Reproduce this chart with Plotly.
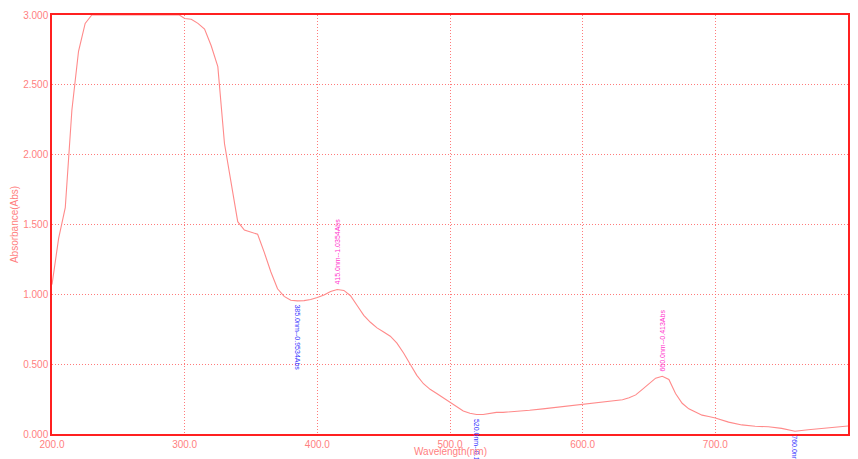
import plotly.graph_objects as go

wavelength = [200, 205, 210, 215, 220, 225, 230, 240, 250, 260, 270, 280, 290, 296,
              300, 305, 310, 315, 320, 325, 330, 335, 340, 345, 350, 355, 360, 365,
              370, 375, 380, 385, 390, 395, 400, 405, 410, 415, 420, 425, 430, 435,
              440, 445, 450, 455, 460, 465, 470, 475, 480, 485, 490, 495, 500, 505,
              510, 515, 520, 525, 530, 535, 540, 550, 560, 570, 580, 590, 600, 610,
              620, 630, 635, 640, 645, 650, 655, 660, 665, 670, 675, 680, 685, 690,
              695, 700, 710, 720, 730, 740, 750, 760, 770, 780, 790, 800]
absorbance = [1.07, 1.40, 1.62, 2.32, 2.74, 2.94, 3.0, 3.0, 3.0, 3.0, 3.0, 3.0, 3.0, 3.0,
              2.975, 2.97, 2.94, 2.90, 2.78, 2.63, 2.08, 1.80, 1.52, 1.46, 1.445, 1.43, 1.30, 1.16,
              1.04, 0.985, 0.958, 0.953, 0.955, 0.963, 0.978, 0.995, 1.02, 1.035, 1.028, 0.99, 0.92, 0.85,
              0.80, 0.76, 0.73, 0.70, 0.65, 0.58, 0.50, 0.42, 0.36, 0.32, 0.29, 0.26, 0.23, 0.195,
              0.165, 0.148, 0.14, 0.14, 0.15, 0.155, 0.155, 0.16, 0.17, 0.18, 0.19, 0.20, 0.215, 0.22,
              0.23, 0.245, 0.26, 0.28, 0.32, 0.36, 0.40, 0.413, 0.39, 0.29, 0.22, 0.18, 0.155, 0.135,
              0.125, 0.115, 0.085, 0.065, 0.055, 0.052, 0.04, 0.02, 0.03, 0.04, 0.05, 0.057]

x_ticks = [200, 300, 400, 500, 600, 700, 800]
x_tick_labels = ["200.0", "300.0", "400.0", "500.0", "600.0", "700.0", "800.0"]
y_ticks = [0, 0.5, 1.0, 1.5, 2.0, 2.5, 3.0]
y_tick_labels = ["0.000", "0.500", "1.000", "1.500", "2.000", "2.500", "3.000"]

peaks_nm = [415, 660]
peaks_abs = [1.0354, 0.413]
peaks_text = ["415.0nm--1.0354Abs", "660.0nm--0.413Abs"]
valleys_nm = [385, 520, 760]
valleys_abs = [0.953, 0.140, 0.020]
valleys_text = ["385.0nm--0.9534Abs", "520.0nm--0.1398Abs", "760.0nm--0.0201Abs"]

LINE = "#ff8a8a"
TXT = "#ff7f7f"
GRID = "rgba(255,100,100,0.85)"

fig = go.Figure()
fig.add_trace(go.Scatter(x=wavelength, y=absorbance, mode="lines",
                         line=dict(color=LINE, width=1.1), showlegend=False,
                         cliponaxis=True))

for x, y, t in zip(peaks_nm, peaks_abs, peaks_text):
    fig.add_annotation(x=x, y=y, text=t, textangle=-90, showarrow=False,
                       xanchor="center", yanchor="bottom", yshift=3,
                       font=dict(family="Liberation Sans", size=7, color="#ff33cc"))
for x, y, t in zip(valleys_nm, valleys_abs, valleys_text):
    fig.add_annotation(x=x, y=y, text=t, textangle=90, showarrow=False,
                       xanchor="center", yanchor="top", yshift=-2,
                       font=dict(family="Liberation Sans", size=7, color="#3333ff"))

fig.add_annotation(xref="paper", yref="paper", x=0.5, y=-0.025, yanchor="top",
                   text="Wavelength(nm)", showarrow=False,
                   font=dict(family="Liberation Sans", size=10, color=TXT))
fig.add_annotation(xref="paper", yref="paper", x=-0.047, xanchor="center", y=0.5,
                   yanchor="middle", text="Absorbance(Abs)", textangle=-90, showarrow=False,
                   font=dict(family="Liberation Sans", size=10, color=TXT))

fig.update_layout(
    width=850, height=451,
    margin=dict(l=44, r=10, t=7, b=25),
    paper_bgcolor="white", plot_bgcolor="white",
    xaxis=dict(range=[200, 800], tickvals=x_ticks, ticktext=x_tick_labels,
               showgrid=True, gridcolor=GRID, griddash="1px,2px", gridwidth=1,
               showline=True, linecolor="#ff2020", linewidth=1.5, mirror=True, automargin=False,
               zeroline=False, ticks="", tickfont=dict(family="Liberation Sans", size=10, color=TXT)),
    yaxis=dict(range=[0, 3], tickvals=y_ticks, ticktext=y_tick_labels,
               showgrid=True, gridcolor=GRID, griddash="1px,2px", gridwidth=1,
               showline=True, linecolor="#ff2020", linewidth=1.5, mirror=True, automargin=False,
               zeroline=False, ticks="", tickfont=dict(family="Liberation Sans", size=10, color=TXT)),
)

fig.write_html("out.html")
